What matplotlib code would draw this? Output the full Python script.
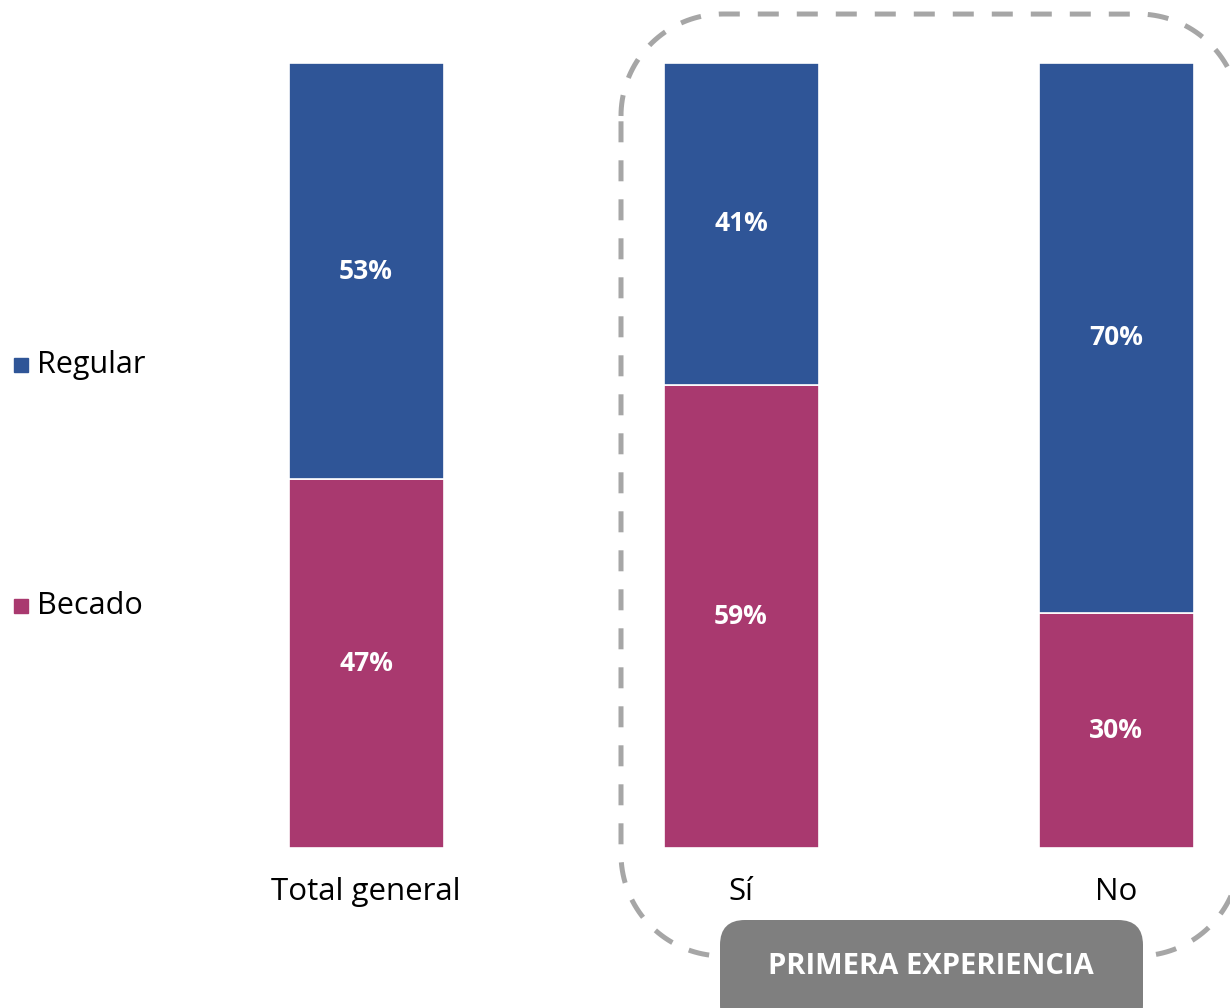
import matplotlib
matplotlib.use("Agg")
import numpy as np
import matplotlib.pyplot as plt
from matplotlib.patches import FancyBboxPatch, Rectangle

categories = ["Total general", "Sí", "No"]
becado = [47, 59, 30]
regular = [53, 41, 70]
series_names = ["Regular", "Becado"]
group_label = "PRIMERA EXPERIENCIA"

BLUE = "#2F5597"
MAGENTA = "#A9396F"
FONT = ["Open Sans", "DejaVu Sans"]
plt.rcParams["font.family"] = FONT

W, H = 1230, 1008
fig = plt.figure(figsize=(W / 100, H / 100), dpi=100)

# overlay axes in pixel coordinates for decorations
ov = fig.add_axes([0, 0, 1, 1])
ov.set_xlim(0, W)
ov.set_ylim(H, 0)
ov.axis("off")

# main axes
bot_px, top_px = 848, 63
ax = fig.add_axes([0, (H - bot_px) / H, 1, (bot_px - top_px) / H])
scale = 375.0
x0 = 366.0
ax.set_xlim(-x0 / scale, (W - x0) / scale)
ax.set_ylim(0, 100)
xs = list(range(len(categories)))
bw = 155 / scale
ax.bar(xs, becado, width=bw, color=MAGENTA, edgecolor="white", linewidth=1.2, zorder=3)
ax.bar(xs, regular, width=bw, bottom=becado, color=BLUE, edgecolor="white", linewidth=1.2, zorder=3)
for x, b, r in zip(xs, becado, regular):
    ax.text(x, b / 2, f"{b}%", ha="center", va="center", color="white",
            fontsize=19, fontweight="bold", zorder=4)
    ax.text(x, b + r / 2, f"{r}%", ha="center", va="center", color="white",
            fontsize=19, fontweight="bold", zorder=4)
ax.set_xticks(xs)
ax.set_xticklabels(categories, fontsize=22.5)
ax.tick_params(axis="x", length=0, pad=21)
ax.set_yticks([])
for s in ax.spines.values():
    s.set_visible(False)
ax.patch.set_alpha(0)

# legend
for name, col, ypx in [(series_names[0], BLUE, 365), (series_names[1], MAGENTA, 606)]:
    ov.add_patch(Rectangle((14, ypx - 7), 14, 14, color=col))
    ov.text(37, ypx, name, ha="left", va="center", fontsize=22, color="black")

# dashed rounded frame, built as a polyline (pixel coords, y down)
def rounded_rect(x1, y1, x2, y2, r, n=40):
    pts = []
    corners = [
        (x1 + r, y1 + r, np.pi, 1.5 * np.pi),      # top-left
        (x2 - r, y1 + r, 1.5 * np.pi, 2 * np.pi),  # top-right
        (x2 - r, y2 - r, 0, 0.5 * np.pi),          # bottom-right
        (x1 + r, y2 - r, 0.5 * np.pi, np.pi),      # bottom-left
    ]
    for cx, cy, a0, a1 in corners:
        t = np.linspace(a0, a1, n)
        pts.append(np.column_stack([cx + r * np.cos(t), cy + r * np.sin(t)]))
    pts = np.vstack(pts + [pts[0][:1]])
    return pts[:, 0], pts[:, 1]

fx, fy = rounded_rect(621, 14, 1240, 956, 102)
ov.plot(fx, fy, color="#A6A6A6", linewidth=3.6, linestyle=(0, (4.2, 3.6)),
        zorder=1, clip_on=False, solid_capstyle="butt", dash_capstyle="butt")

# gray label box
box = FancyBboxPatch((720, 920), 423, 110, boxstyle="round,pad=0,rounding_size=25",
                     facecolor="#7F7F7F", edgecolor="none", zorder=5)
ov.add_patch(box)
ov.text(931, 967, group_label, ha="center", va="center", color="white",
        fontsize=21, fontweight="bold", zorder=6)

fig.savefig("out.png", dpi=100)
